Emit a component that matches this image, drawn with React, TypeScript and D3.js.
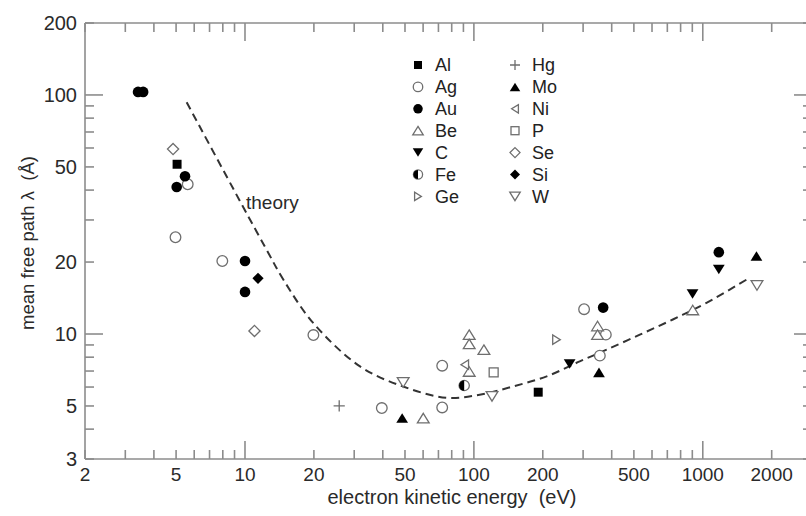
import React from "react";
import * as d3 from "d3";

const W = 806;
const H = 516;

// ---- data ----
const xTickLabels = [2, 5, 10, 20, 50, 100, 200, 500, 1000, 2000];
const yTickLabels = [3, 5, 10, 20, 50, 100, 200];

const theoryE = [5.56, 9.67, 12.4, 14.7, 19.9, 31.8, 49.1, 76, 106, 148, 208, 290, 380, 531, 740, 1038, 1604];
const theoryL = [93.2, 34.9, 22.6, 16.9, 11.1, 7.32, 6.03, 5.41, 5.57, 6.03, 6.65, 7.68, 8.6, 9.94, 11.5, 13.5, 17.2];

const elements = ["Al", "Ag", "Au", "Be", "C", "Fe", "Ge", "Hg", "Mo", "Ni", "P", "Se", "Si", "W"];
const symbols = ["sqF", "circO", "circF", "triUpO", "triDnF", "half", "triRtO", "plus", "triUpF", "triLtO", "sqO", "diaO", "diaF", "triDnO"];

const Al = [[5.05, 51.3], [191, 5.71]];
const Ag = [[5.62, 42.3], [4.97, 25.4], [7.96, 20.2], [19.9, 9.9], [39.6, 4.9], [72.7, 7.37], [72.7, 4.93], [303, 12.7], [377, 9.94], [355, 8.12]];
const Au = [[3.41, 103], [3.59, 103], [5.47, 45.7], [5.03, 41.2], [10, 20.2], [10, 15.0], [367, 12.9], [1175, 22.0]];
const Be = [[60.1, 4.45], [95.4, 9.94], [95.4, 9.09], [110.6, 8.6], [95.4, 6.97], [347, 10.8], [347, 9.94], [904, 12.6]];
const C = [[262, 7.49], [902, 14.7], [1175, 18.6]];
const Fe = [[90.7, 6.09]];
const Ge = [[229.6, 9.47]];
const Hg = [[25.8, 5.0]];
const Mo = [[48.6, 4.45], [352, 6.91], [1716, 21.2]];
const Ni = [[91.2, 7.44]];
const P = [[122, 6.91]];
const Se = [[4.85, 59.4], [11.0, 10.3]];
const Si = [[11.4, 17.1]];
const Wt = [[49.1, 6.27], [120, 5.48], [1725, 15.96]];
const seriesData = [Al, Ag, Au, Be, C, Fe, Ge, Hg, Mo, Ni, P, Se, Si, Wt];

// ---- layout ----
const xScale = d3.scaleLog().domain([2, 3000]).range([85, 812]);
const yScale = d3.scaleLog().domain([3, 200]).range([459, 23]);

const FONT = "'Liberation Sans', Arial, Helvetica, sans-serif";
const AXIS = "#8c8c8c";
const OPEN = "#6e6e6e";

function Marker({ type, x, y, s }: { type: string; x: number; y: number; s: number }) {
  const sw = 1.3;
  const tri = (dir: string) => {
    const a = s * 1.05; // half base
    const hh = s * 0.85; // half height
    let pts: number[][];
    if (dir === "up") pts = [[0, -hh], [a, hh], [-a, hh]];
    else if (dir === "dn") pts = [[0, hh], [a, -hh], [-a, -hh]];
    else if (dir === "rt") pts = [[hh * 0.8, 0], [-hh * 0.8, a * 0.8], [-hh * 0.8, -a * 0.8]];
    else pts = [[-hh * 0.8, 0], [hh * 0.8, a * 0.8], [hh * 0.8, -a * 0.8]];
    return "M" + pts.map((p) => `${x + p[0]},${y + p[1]}`).join("L") + "Z";
  };
  switch (type) {
    case "sqF":
      return <rect x={x - s * 0.8} y={y - s * 0.8} width={s * 1.6} height={s * 1.6} fill="#000" />;
    case "sqO":
      return <rect x={x - s * 0.8} y={y - s * 0.8} width={s * 1.6} height={s * 1.6} fill="#fff" stroke={OPEN} strokeWidth={sw} />;
    case "circF":
      return <circle cx={x} cy={y} r={s * 0.95} fill="#000" />;
    case "circO":
      return <circle cx={x} cy={y} r={s * 0.95} fill="#fff" stroke={OPEN} strokeWidth={sw} />;
    case "half":
      return (
        <g>
          <circle cx={x} cy={y} r={s * 0.92} fill="#fff" stroke={OPEN} strokeWidth={sw} />
          <path d={`M${x},${y - s * 0.92} A${s * 0.92},${s * 0.92} 0 0 0 ${x},${y + s * 0.92} Z`} fill="#000" />
        </g>
      );
    case "triUpO":
      return <path d={tri("up")} fill="#fff" stroke={OPEN} strokeWidth={sw} />;
    case "triUpF":
      return <path d={tri("up")} fill="#000" />;
    case "triDnO":
      return <path d={tri("dn")} fill="#fff" stroke={OPEN} strokeWidth={sw} />;
    case "triDnF":
      return <path d={tri("dn")} fill="#000" />;
    case "triRtO":
      return <path d={tri("rt")} fill="#fff" stroke={OPEN} strokeWidth={sw} />;
    case "triLtO":
      return <path d={tri("lt")} fill="#fff" stroke={OPEN} strokeWidth={sw} />;
    case "diaO":
      return <path d={`M${x},${y - s}L${x + s},${y}L${x},${y + s}L${x - s},${y}Z`} fill="#fff" stroke={OPEN} strokeWidth={sw} />;
    case "diaF":
      return <path d={`M${x},${y - s}L${x + s},${y}L${x},${y + s}L${x - s},${y}Z`} fill="#000" />;
    case "plus":
      return <path d={`M${x - s},${y}H${x + s}M${x},${y - s}V${y + s}`} stroke={OPEN} strokeWidth={sw} fill="none" />;
    default:
      return null;
  }
}

export default function App() {
  const [x0, x1] = xScale.range();
  const [yb, yt] = yScale.range();
  const xMinor = xScale.ticks();
  const yMinor = yScale.ticks();
  const isDecade = (v: number) => Math.abs(Math.log10(v) - Math.round(Math.log10(v))) < 1e-9;

  const line = d3
    .line<number>()
    .x((_, i) => xScale(theoryE[i]))
    .y((d) => yScale(d))
    .curve(d3.curveCatmullRom.alpha(0.5));

  const legendRows = 7;
  return (
    <svg width={W} height={H} style={{ position: "absolute", left: 0, top: 0, background: "#fff" }} fontFamily={FONT}>
      <rect width={W} height={H} fill="#fff" />
      {/* frame */}
      <g stroke={AXIS} strokeWidth={1.6} fill="none">
        <line x1={x0} x2={x1} y1={yb} y2={yb} />
        <line x1={x0} x2={x1} y1={yt} y2={yt} />
        <line x1={x0} x2={x0} y1={yt} y2={yb} />
        <line x1={x1} x2={x1} y1={yt} y2={yb} />
        {xMinor.map((v, i) => {
          const L = isDecade(v) ? 18 : 9;
          const px = xScale(v);
          return (
            <g key={"xt" + i}>
              <line x1={px} x2={px} y1={yb} y2={yb - L} />
              <line x1={px} x2={px} y1={yt} y2={yt + L} />
            </g>
          );
        })}
        {yMinor.map((v, i) => {
          const L = isDecade(v) ? 18 : 9;
          const py = yScale(v);
          return (
            <g key={"yt" + i}>
              <line x1={x0} x2={x0 + L} y1={py} y2={py} />
              <line x1={x1} x2={x1 - L} y1={py} y2={py} />
            </g>
          );
        })}
      </g>
      {/* tick labels */}
      <g fill="#2a2a2a">
        {xTickLabels.map((v) => (
          <text key={"xl" + v} x={xScale(v)} y={481} textAnchor="middle" fontSize={19}>
            {v}
          </text>
        ))}
        {yTickLabels.map((v) => (
          <text key={"yl" + v} x={77} y={yScale(v)} dy="0.36em" textAnchor="end" fontSize={20}>
            {v}
          </text>
        ))}
      </g>
      {/* axis titles */}
      <text x={452} y={504} textAnchor="middle" fontSize={20} fill="#2a2a2a" style={{ whiteSpace: "pre" }}>
        {"electron kinetic energy  (eV)"}
      </text>
      <text transform="translate(34,243) rotate(-90)" textAnchor="middle" fontSize={18.5} fill="#2a2a2a" style={{ whiteSpace: "pre" }}>
        {"mean free path λ  (Å)"}
      </text>
      {/* theory curve */}
      <path d={line(theoryL) || ""} fill="none" stroke="#333" strokeWidth={2} strokeDasharray="8,5" />
      <text x={246} y={209} fontSize={19} fill="#2a2a2a">
        theory
      </text>
      {/* data */}
      {seriesData.map((pts, si) =>
        pts.map((p, j) => <Marker key={`m${si}-${j}`} type={symbols[si]} x={xScale(p[0])} y={yScale(p[1])} s={5.6} />)
      )}
      {/* legend */}
      {elements.map((name, i) => {
        const col = Math.floor(i / legendRows);
        const row = i % legendRows;
        const mx = col === 0 ? 418 : 515;
        const my = 65 + row * 21.9;
        return (
          <g key={"lg" + name}>
            <Marker type={symbols[i]} x={mx} y={my} s={5} />
            <text x={mx + 17} y={my} dy="0.36em" fontSize={18} fill="#222">
              {name}
            </text>
          </g>
        );
      })}
    </svg>
  );
}
